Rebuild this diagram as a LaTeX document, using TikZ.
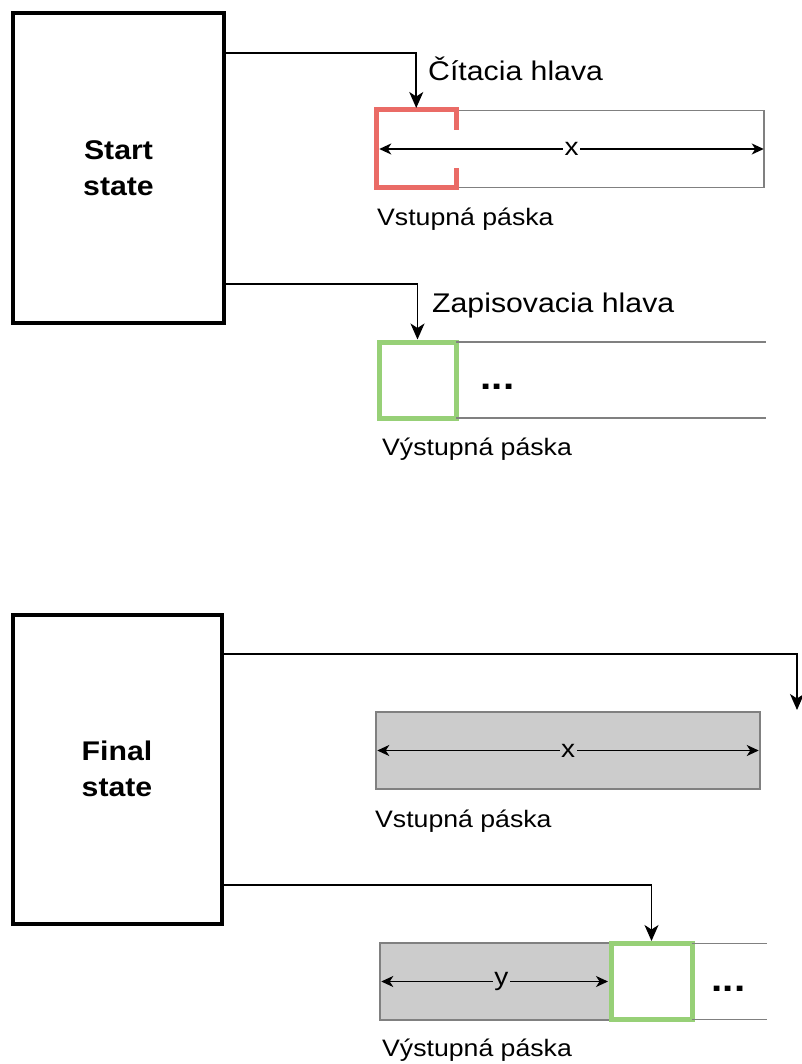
\documentclass[tikz,border=0pt]{standalone}
\usepackage{fontspec}
\setmainfont{Liberation Sans}[FakeStretch=1.12]
\usetikzlibrary{arrows.meta,calc}
\definecolor{headred}{HTML}{EA6B66}
\definecolor{headgreen}{HTML}{97D077}
\definecolor{tapefill}{HTML}{CCCCCC}
\definecolor{tapeedge}{HTML}{808080}

\begin{document}
\begin{tikzpicture}[x=1pt,y=-1pt,
  statebox/.style={draw=black, line width=4pt, minimum width=211pt, minimum height=309pt,
    align=center, inner sep=0pt, font=\fontsize{27}{36}\selectfont\bfseries},
  tape/.style={draw=tapeedge, line width=1.5pt, minimum height=77pt, inner sep=0pt},
  filledtape/.style={tape, fill=tapefill},
  tapeline/.style={draw=tapeedge, line width=1.5pt},
  headarea/.style={minimum width=80pt, minimum height=78pt, inner sep=0pt, outer sep=0pt},
  readhd/.style={draw=headred, line width=5pt, line join=miter},
  writehd/.style={draw=headgreen, line width=5pt, minimum height=76pt, inner sep=0pt, outer sep=0pt},
  conn/.style={draw=black, line width=1.6pt, -{Stealth[length=16pt,width=14pt,inset=4.5pt]}},
  dimarr/.style={draw=black, line width=1.6pt,
    {Stealth[length=12pt,width=11pt,inset=3.5pt]}-{Stealth[length=12pt,width=11pt,inset=3.5pt]}},
  dimlbl/.style={inner sep=1.5pt, font=\fontsize{25}{28}\selectfont},
  headlbl/.style={anchor=base west, inner sep=0pt, font=\fontsize{27}{32}\selectfont},
  tapelbl/.style={anchor=base west, inner sep=0pt, font=\fontsize{23.8}{28}\selectfont},
  dots/.style={inner sep=0pt, font=\fontsize{36}{40}\selectfont\bfseries}
]
\useasboundingbox (0,0) rectangle (802,1064);

% ---------- start state ----------
\node[statebox] (start) at (118.5,168) {Start\\state};

% input tape with the read head at its left end
\node[tape, minimum width=387pt] (tin) at (570.5,149) {};
\node[headarea, anchor=west] (rh) at (tin.west) {};
\draw[readhd] ($(rh.north east)+(0,20)$) -- (rh.north east) -- (rh.north west)
  -- (rh.south west) -- (rh.south east) -- ($(rh.south east)+(0,-20)$);
\draw[dimarr] ([xshift=3pt]tin.west) -- node[dimlbl, fill=white] (xlen) {x} ([xshift=-1pt]tin.east);
\node[tapelbl] (inlbl) at (377,226) {Vstupná páska};
\node[headlbl] (rhlbl) at (428,81) {Čítacia hlava};

% output tape with the write head at its left end
\node[writehd, minimum width=77pt] (wh) at (417.5,380) {};
\draw[tapeline] (wh.north east) -- ++(310,0) coordinate (outtopend);
\draw[tapeline] (wh.south east) -- ++(310,0) coordinate (outbotend);
\node[dots] (outdots) at (497.5,387) {...};
\node[tapelbl] (outlbl) at (382,455) {Výstupná páska};
\node[headlbl] (whlbl) at (432,312) {Zapisovacia hlava};

% connectors from the start state to both heads
\coordinate (s1) at (0,53);
\coordinate (s2) at (0,284);
\draw[conn, shorten >=2pt] (start.east |- s1) -| (rh.north);
\draw[conn, shorten >=2.5pt] (start.east |- s2) -| (wh.north);

% ---------- final state ----------
\node[statebox, minimum width=209pt] (final) at (117,769) {Final\\state};

% fully read input tape
\node[filledtape, minimum width=384pt] (tin2) at (568,750.5) {};
\draw[dimarr] ([xshift=2pt]tin2.west) -- node[dimlbl, fill=tapefill] (xlen2) {x} ([xshift=-2pt]tin2.east);
\node[tapelbl] (inlbl2) at (375,827) {Vstupná páska};

% written part of the output tape and the write head after it
\node[filledtape, minimum width=231pt] (written) at (495.5,981.5) {};
\node[writehd, minimum width=81pt, fill=white] (wh2) at (651.5,981.5) {};
\draw[tapeline] (wh2.north east) -- ++(75,0) coordinate (out2topend);
\draw[tapeline] (wh2.south east) -- ++(75,0) coordinate (out2botend);
\draw[dimarr] ([xshift=2pt]written.west) -- node[dimlbl, fill=tapefill, pos=0.53] (ylen) {y} ([xshift=-3pt]wh2.west);
\node[dots] (outdots2) at (728.5,989) {...};
\node[tapelbl] (outlbl2) at (382,1056) {Výstupná páska};

% connectors from the final state
\coordinate (f1) at (0,654);
\coordinate (f2) at (0,885);
\coordinate (rhgone) at (797,710);
\draw[conn] (final.east |- f1) -| (rhgone);
\draw[conn, shorten >=2.5pt] (final.east |- f2) -| (wh2.north);
\end{tikzpicture}
\end{document}
